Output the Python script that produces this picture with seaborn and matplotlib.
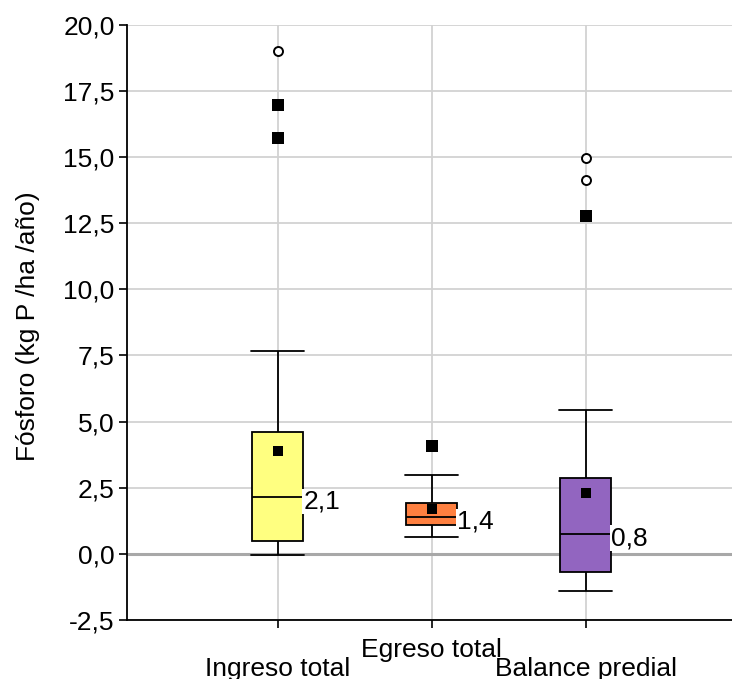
import numpy as np
import pandas as pd
import matplotlib
matplotlib.use("Agg")
import matplotlib.pyplot as plt
import seaborn as sns

# ---------------- data ----------------
categories = ["Ingreso total", "Egreso total", "Balance predial"]
whisker_low = [-0.04, 0.63, -1.41]
q1 = [0.47, 1.09, -0.69]
median = [2.14, 1.38, 0.75]
q3 = [4.61, 1.91, 2.86]
whisker_high = [7.68, 2.97, 5.45]
means = [3.90, 1.69, 2.31]
median_labels = ["2,1", "1,4", "0,8"]

near_out_cat = ["Ingreso total", "Ingreso total", "Egreso total", "Balance predial"]
near_out_val = [16.98, 15.70, 4.07, 12.76]
far_out_cat = ["Ingreso total", "Balance predial", "Balance predial"]
far_out_val = [19.02, 14.98, 14.12]

yticks = [-2.5, 0.0, 2.5, 5.0, 7.5, 10.0, 12.5, 15.0, 17.5, 20.0]
ytick_labels = ["-2,5", "0,0", "2,5", "5,0", "7,5", "10,0", "12,5", "15,0", "17,5", "20,0"]
ylabel = "Fósforo (kg P /ha /año)"
box_colors = ["#FFFF80", "#FF8040", "#9265C0"]

# ---------------- build tables ----------------
rows = []
for c, lo, a, m, b, hi in zip(categories, whisker_low, q1, median, q3, whisker_high):
    for v in (lo, a, m, b, hi):
        rows.append({"cat": c, "val": v})
box_df = pd.DataFrame(rows)
mean_df = pd.DataFrame({"cat": categories, "val": means})
near_df = pd.DataFrame({"cat": near_out_cat, "val": near_out_val})
far_df = pd.DataFrame({"cat": far_out_cat, "val": far_out_val})

# ---------------- style ----------------
sns.set_theme(style="white")
plt.rcParams["font.family"] = ["Liberation Sans", "DejaVu Sans"]
plt.rcParams["text.color"] = "black"
plt.rcParams["axes.labelcolor"] = "black"
plt.rcParams["xtick.color"] = "black"
plt.rcParams["ytick.color"] = "black"
FS = 19

fig = plt.figure(figsize=(7.32, 6.79), dpi=100)
ax = fig.add_axes([0.1735, 0.0869, 0.8265, 0.8767])

box_w = 0.33
sns.boxplot(data=box_df, x="cat", y="val", hue="cat", order=categories,
            hue_order=categories, palette=box_colors, saturation=1,
            whis=(0, 100), width=box_w, linecolor="black", linewidth=1.3,
            fliersize=0, legend=False, ax=ax, capwidths=0.345, zorder=3)

sns.scatterplot(data=mean_df, x="cat", y="val", marker="s", s=44,
                color="black", edgecolor="black", linewidth=0, ax=ax, zorder=5)
sns.scatterplot(data=near_df, x="cat", y="val", marker="s", s=72,
                color="black", edgecolor="black", linewidth=0, ax=ax, zorder=5)
sns.scatterplot(data=far_df, x="cat", y="val", marker="o", s=42,
                facecolor="white", edgecolor="black", linewidth=1.4, ax=ax, zorder=5)

for i, (m, lab) in enumerate(zip(median, median_labels)):
    ax.annotate(lab, xy=(i + box_w / 2, m), xytext=(0, -3),
                textcoords="offset points", ha="left", va="center",
                fontsize=FS, color="black", zorder=6,
                bbox=dict(facecolor="white", edgecolor="none", pad=0.5))

# grid and zero line
ax.set_axisbelow(True)
ax.grid(True, axis="both", color="#D2D2D2", linewidth=1.3)
ax.axhline(0, color="#A8A8A8", linewidth=2.2, zorder=1)

ax.set_xlim(-0.98, 2.95)
ax.set_ylim(-2.5, 20.0)
ax.set_yticks(yticks)
ax.set_yticklabels(ytick_labels)
ax.set_xticks(range(len(categories)))
ax.set_xticklabels(categories)

ax.tick_params(axis="both", which="major", direction="out", length=6,
               width=1.2, color="black", labelcolor="black", labelsize=FS,
               left=True, bottom=True)
ax.tick_params(axis="y", pad=3)

for s in ("top", "right"):
    ax.spines[s].set_visible(False)
for s in ("left", "bottom"):
    ax.spines[s].set_color("black")
    ax.spines[s].set_linewidth(1.3)

ax.set_xlabel("")
ax.set_ylabel(ylabel, fontsize=FS, color="black")
ax.yaxis.set_label_coords(-0.144, 0.494)

# staggered category labels
xt = ax.xaxis.get_major_ticks()
xt[0].set_pad(21)
xt[1].set_pad(7)
xt[2].set_pad(21)

fig.savefig("out.png", dpi=100)
